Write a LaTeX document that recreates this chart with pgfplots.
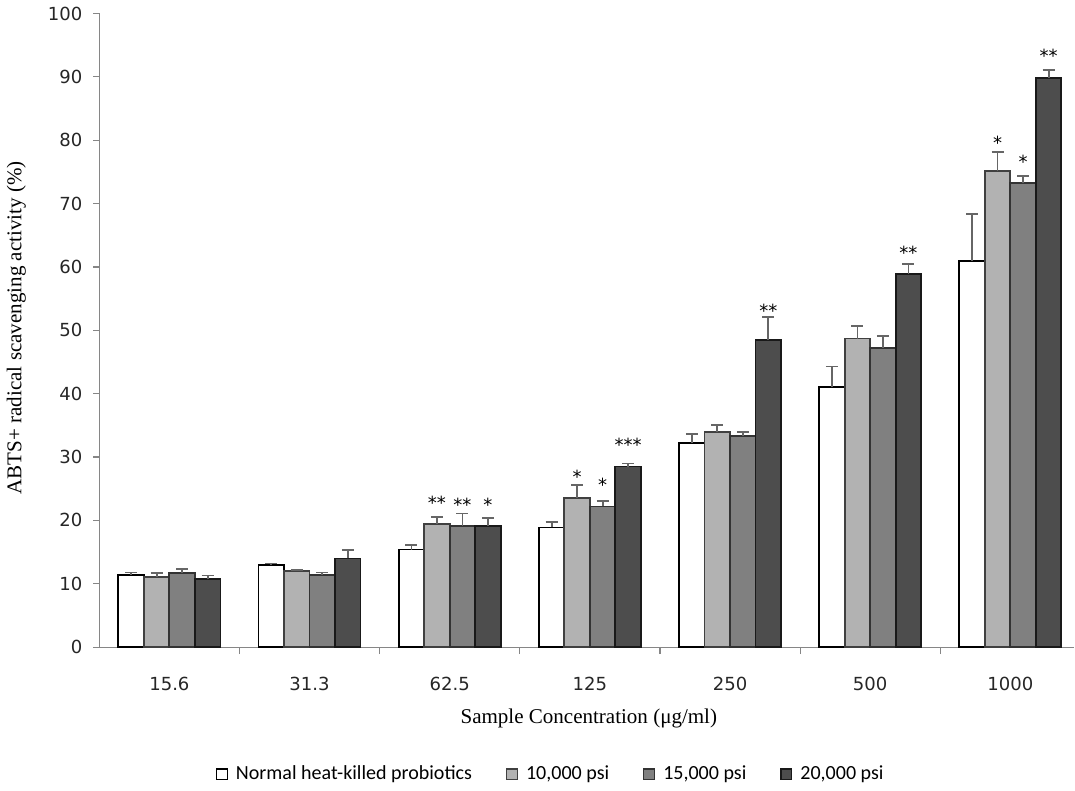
\documentclass[border=0pt]{standalone}
\usepackage{fontspec}
\setmainfont{Liberation Serif}
\newfontfamily\tickfont{DejaVu Sans}
\newfontfamily\legfont{Carlito}
\usepackage{pgfplots}
\usepackage{pgfplotstable}
\pgfplotsset{compat=1.18}
\definecolor{cLight}{HTML}{B2B2B2}
\definecolor{cMid}{HTML}{808080}
\definecolor{cDark}{HTML}{4D4D4D}
\definecolor{axisgray}{HTML}{868686}
\definecolor{errgray}{HTML}{666666}

% p = bar position (category index plus offset inside the group)
\pgfplotstableread{
p y e
-0.273 11.4 0.4
0.727 12.95 0.25
1.727 15.4 0.7
2.727 18.9 0.9
3.727 32.2 1.4
4.727 41.0 3.3
5.727 61.0 7.3
}\whitedata
\pgfplotstableread{
p y e
-0.091 11.05 0.7
0.909 12.0 0.15
1.909 19.4 1.1
2.909 23.5 2.1
3.909 34.0 1.1
4.909 48.7 2.0
5.909 75.1 3.1
}\lightdata
\pgfplotstableread{
p y e
0.091 11.7 0.6
1.091 11.4 0.4
2.091 19.1 2.0
3.091 22.2 0.9
4.091 33.3 0.6
5.091 47.2 1.9
6.091 73.2 1.2
}\middata
\pgfplotstableread{
p y e
0.273 10.7 0.6
1.273 14.0 1.3
2.273 19.1 1.3
3.273 28.5 0.5
4.273 48.5 3.6
5.273 58.9 1.6
6.273 89.8 1.3
}\darkdata
\pgfplotstableread{
x y lab
1.909 23.2 **
2.091 22.9 **
2.273 22.9 *
2.909 27.2 *
3.091 26.0 *
3.273 32.3 ***
4.273 53.5 **
5.273 62.6 **
5.909 79.9 *
6.091 76.9 *
6.273 93.7 **
}\stardata

\begin{document}
\begin{tikzpicture}
\begin{axis}[
  scale only axis, width=487pt, height=316.5pt,
  xmin=-0.5, xmax=6.457, ymin=0, ymax=100,
  axis x line*=bottom, axis y line*=left,
  axis line style={axisgray, line width=0.6pt},
  tick align=outside, major tick length=3pt,
  ytick={0,10,...,100},
  y tick style={axisgray, line width=0.6pt},
  xtick={0,...,6}, xticklabels={15.6,31.3,62.5,125,250,500,1000},
  x tick style={draw=none},
  extra x ticks={0.5,1.5,...,5.5}, extra x tick labels={},
  extra x tick style={major tick length=3.5pt, x tick style={draw=axisgray, line width=0.6pt}},
  /pgf/number format/assume math mode=true,
  tick label style={font=\tickfont\fontsize{9}{10}\selectfont, black!85},
  yticklabel style={xshift=-2pt},
  xticklabel style={yshift=-8.5pt},
  xlabel={Sample Concentration (μg/ml)},
  xlabel style={at={(axis description cs:0.502,-0.1122)}, anchor=center, font=\fontsize{10.5}{12}\selectfont},
  ylabel={ABTS+ radical scavenging activity (\%)},
  ylabel style={at={(axis description cs:-0.0852,0.504)}, anchor=center, font=\fontsize{10.5}{12}\selectfont},
  legend columns=4,
  legend style={at={(axis description cs:0.464,-0.2006)}, anchor=center, draw=none,
    font=\legfont\fontsize{10}{11}\selectfont,
    /tikz/every odd column/.append style={column sep=2pt},
    /tikz/every even column/.append style={column sep=15pt}},
  legend image code/.code={\draw[#1, line width=0.6pt] (0pt,-2.7pt) rectangle (5.4pt,2.7pt);},
  clip=false,
  every axis plot/.append style={ybar, bar width=0.182, bar shift=0pt, line width=0.9pt},
  error bars/error bar style={errgray, line width=0.9pt},
  error bars/error mark options={rotate=90, errgray, mark size=3pt, line width=0.9pt},
]
\addplot[fill=white, draw=black,
  error bars/.cd, y dir=plus, y explicit]
  table[x=p, y=y, y error=e]{\whitedata};
\addlegendentry{Normal heat-killed probiotics}
\addplot[fill=cLight, draw=black!75,
  error bars/.cd, y dir=plus, y explicit]
  table[x=p, y=y, y error=e]{\lightdata};
\addlegendentry{10,000 psi}
\addplot[fill=cMid, draw=black!80,
  error bars/.cd, y dir=plus, y explicit]
  table[x=p, y=y, y error=e]{\middata};
\addlegendentry{15,000 psi}
\addplot[fill=cDark, draw=black!90,
  error bars/.cd, y dir=plus, y explicit]
  table[x=p, y=y, y error=e]{\darkdata};
\addlegendentry{20,000 psi}
\addplot[draw=none, fill=none, forget plot, nodes near coords, point meta=explicit symbolic,
  nodes near coords style={anchor=center, inner sep=0pt, yshift=-1.2pt, font=\tickfont\fontsize{9}{9}\selectfont}]
  table[x=x, y=y, meta=lab]{\stardata};
\end{axis}
\end{tikzpicture}
\end{document}
